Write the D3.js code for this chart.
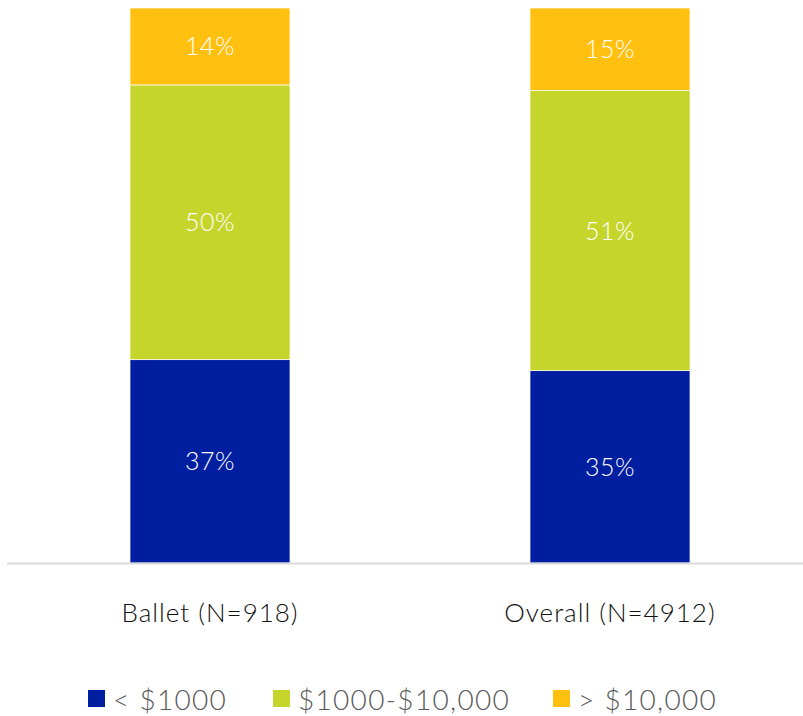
<!DOCTYPE html>
<html>
<head>
<meta charset="utf-8">
<script src="https://cdn.jsdelivr.net/npm/d3@7"></script>
<style>
  body { margin: 0; background: #fff; }
  text { font-family: Lato, "Noto Sans", sans-serif; font-weight: 300; }
</style>
</head>
<body>
<script>
'use strict';

// chart data
const categories = ["Ballet (N=918)", "Overall (N=4912)"];
const seriesNames = ["< $1000", "$1000-$10,000", "> $10,000"];
const under1000 = [37, 35];
const mid = [50, 51];
const over10000 = [14, 15];
const colors = ["#001ea0", "#c5d52c", "#ffc010"];

(function() {
  const width = 803, height = 716;
  const svg = d3.select('body').append('svg')
    .attr('width', width)
    .attr('height', height);

  // build rows for stacking
  const rows = categories.map((c, i) => ({
    cat: c, s0: under1000[i], s1: mid[i], s2: over10000[i]
  }));
  const stack = d3.stack().keys(["s0", "s1", "s2"]);
  const layers = stack(rows);

  const x = d3.scaleBand()
    .domain(categories)
    .range([10, 810])
    .paddingInner(0.6)
    .paddingOuter(0.3);

  const y = d3.scaleLinear()
    .domain([0, 101])
    .range([563, 8]);

  // bars
  layers.forEach((layer, li) => {
    svg.append('g').selectAll('rect')
      .data(layer)
      .enter()
      .append('rect')
        .attr('x', d => x(d.data.cat))
        .attr('y', d => y(d[1]))
        .attr('width', x.bandwidth())
        .attr('height', d => y(d[0]) - y(d[1]))
        .attr('fill', colors[li])
        .attr('stroke', '#ffffff')
        .attr('stroke-width', 0.7);

    // value labels
    svg.append('g').selectAll('text')
      .data(layer)
      .enter()
      .append('text')
        .attr('x', d => x(d.data.cat) + x.bandwidth() / 2)
        .attr('y', d => (y(d[0]) + y(d[1])) / 2 + 9)
        .attr('text-anchor', 'middle')
        .attr('fill', '#ffffff')
        .style('font-size', '25px')
        .style('letter-spacing', '0.5px')
        .text(d => (d[1] - d[0]) + '%');
  });

  // baseline axis
  const xAxis = d3.axisBottom(x).tickSize(0).tickPadding(41);
  const gx = svg.append('g')
    .attr('transform', 'translate(0,' + y(0) + ')')
    .call(xAxis);
  gx.select('.domain')
    .attr('d', 'M7,0.5H803')
    .attr('stroke', '#d9d9d9')
    .attr('stroke-width', 2);
  gx.selectAll('text')
    .attr('fill', '#111')
    .style('font-size', '26px')
    .style('letter-spacing', '1px')
    .style('font-family', 'Lato, "Noto Sans", sans-serif')
    .style('font-weight', 300);

  // legend
  const legendX = [88, 273, 553];
  const legend = svg.append('g');
  seriesNames.forEach((name, i) => {
    legend.append('rect')
      .attr('x', legendX[i])
      .attr('y', 690)
      .attr('width', 17)
      .attr('height', 17)
      .attr('fill', colors[i]);
    legend.append('text')
      .attr('x', legendX[i] + 25)
      .attr('y', 710)
      .attr('fill', '#595959')
      .style('font-size', '28px')
      .style('letter-spacing', '1.3px')
      .text(name);
  });
})();
</script>
</body>
</html>
